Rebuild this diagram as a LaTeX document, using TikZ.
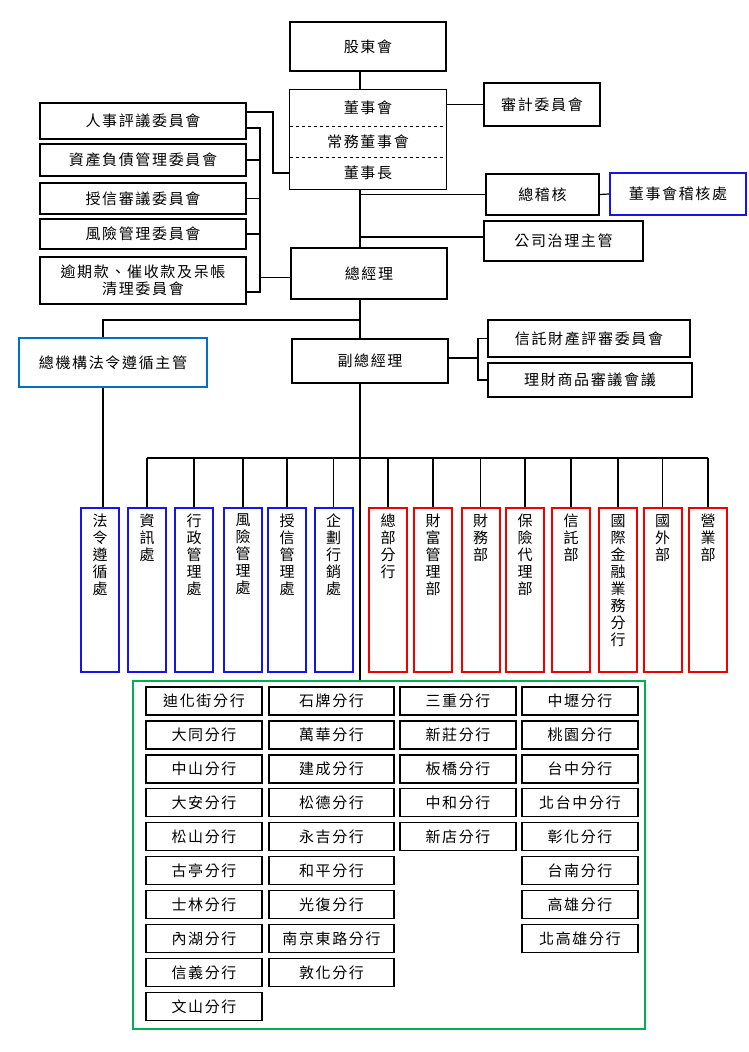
\documentclass[tikz,border=0pt]{standalone}
\usepackage{fontspec}
\newfontfamily\cjk[LetterSpace=11]{Noto Sans CJK TC}
\newfontfamily\cjkv{Noto Sans CJK TC}
\usetikzlibrary{positioning,fit}
\definecolor{deptblue}{RGB}{20,20,235}
\definecolor{lawblue}{RGB}{0,112,192}
\definecolor{deptred}{RGB}{240,0,0}
\definecolor{brgreen}{RGB}{0,176,80}
\tikzset{
  box/.style={draw, line width=1.2pt, inner sep=0pt, align=center,
    font=\cjk\fontsize{15}{17}\selectfont},
  cell/.style={inner sep=0pt, minimum width=156, font=\cjk\fontsize{15}{17}\selectfont},
  dept/.style={draw, line width=2pt, inner sep=0pt, minimum width=38, minimum height=164},
  vtext/.style={inner sep=0pt, align=center, font=\cjkv\fontsize{15}{17}\selectfont},
  branch/.style={box, minimum width=116, minimum height=28}
}
\begin{document}
\begin{tikzpicture}[x=1pt,y=-1pt]
  \useasboundingbox (0,0) rectangle (748,1052);
  \coordinate (spine) at (360,0);
  % board level
  \node[box, minimum width=156, minimum height=49] (gudong) at (368,46.5) {股東會};
  \node[cell, minimum height=36] (dsh) at (368,108) {董事會};
  \node[cell, minimum height=31] (changwu) at (368,141.5) {常務董事會};
  \node[cell, minimum height=32] (chair) at (368,173) {董事長};
  \node[box, fit=(dsh)(chair)] (dongshi) {};
  \draw[dashed, line width=0.9pt] (dsh.south west) -- (dsh.south east);
  \draw[dashed, line width=0.9pt] (changwu.south west) -- (changwu.south east);
  \node[box, minimum width=116, minimum height=43] (shenji) at (542,104.5) {審計委員會};
  \node[box, minimum width=113, minimum height=41] (zongji) at (542.5,194.5) {總稽核};
  \node[box, draw=deptblue, line width=2pt, minimum width=136, minimum height=42] (jihechu) at (678,194) {董事會稽核處};
  \node[box, minimum width=159, minimum height=40] (zhili) at (563.5,241) {公司治理主管};
  \node[box, minimum width=156, minimum height=51] (zongjingli) at (369,273.5) {總經理};
  % committees
  \node[box, minimum width=206, minimum height=36] (renshi) at (143,121) {人事評議委員會};
  \node[box, minimum width=206, minimum height=32] (zichan) at (143,160) {資產負債管理委員會};
  \node[box, minimum width=206, minimum height=31] (shouxin) at (143,198.5) {授信審議委員會};
  \node[box, minimum width=206, minimum height=30] (fengxian) at (143,234) {風險管理委員會};
  \node[box, minimum width=206, minimum height=47] (yuqi) at (143,280.5) {逾期款、催收款及呆帳\\清理委員會};
  \coordinate (rsbend) at (273,140);
  \coordinate (lbtop) at (260,128);
  \coordinate (lbbot) at (260,292);
  \draw[line width=1.2pt] ([yshift=9pt]renshi.east) -| (rsbend) |- (chair.west);
  \draw[line width=1.2pt] ([yshift=-7pt]renshi.east) -- (lbtop) -- (lbbot) -- (lbbot -| yuqi.east);
  \foreach \n in {zichan,shouxin,fengxian}
    \draw[line width=1.2pt] (\n.east) -- (\n.east -| lbtop);
  \draw[line width=1.2pt] ([yshift=-4pt]zongjingli.west) -- ([yshift=-4pt]zongjingli.west -| lbtop);
  % spine
  \draw[line width=1.2pt] (gudong.south -| spine) -- (dongshi.north -| spine);
  \draw[line width=1.2pt] (dongshi.south -| spine) -- (zongjingli.north -| spine);
  \draw[line width=1.2pt] (shenji.west) -- (shenji.west -| dongshi.east);
  \draw[line width=1.2pt] (zongji.west) -- (zongji.west -| spine);
  \draw[line width=1.2pt] (zongji.east) -- (jihechu.west);
  \draw[line width=1.2pt] ([yshift=4pt]zhili.west) -- ([yshift=4pt]zhili.west -| spine);
  % general manager level
  \node[box, draw=lawblue, line width=2pt, minimum width=188, minimum height=49] (zongjigou) at (113,362.5) {總機構法令遵循主管};
  \node[box, minimum width=156, minimum height=44] (fuzong) at (370,361) {副總經理};
  \node[box, minimum width=202, minimum height=37] (xintuoping) at (589,338.5) {信託財產評審委員會};
  \node[box, minimum width=204, minimum height=34] (licai) at (590,380) {理財商品審議會議};
  \coordinate (rbus) at (478,0);
  \coordinate (fgturn) at (103,320);
  \coordinate (bus) at (0,458);
  \draw[line width=1.2pt] (zongjingli.south -| spine) -- (fuzong.north -| spine);
  \draw[line width=1.2pt] (fgturn -| spine) -- (fgturn) -- (fgturn |- zongjigou.north);
  \draw[line width=1.2pt] ([yshift=3pt]fuzong.east) -- ([yshift=3pt]fuzong.east -| rbus);
  \draw[line width=1.2pt] (xintuoping.west) -| (licai.west -| rbus) -- (licai.west);
  % departments
  \foreach \n/\x/\c/\t in {
      fagui/100/deptblue/{法\\令\\遵\\循\\處},
      zixun/147/deptblue/{資\\訊\\處},
      xingzheng/194/deptblue/{行\\政\\管\\理\\處},
      fengguan/243/deptblue/{風\\險\\管\\理\\處},
      shouguan/287/deptblue/{授\\信\\管\\理\\處},
      qihua/333.5/deptblue/{企\\劃\\行\\銷\\處},
      zongbu/388/deptred/{總\\部\\分\\行},
      caifu/433/deptred/{財\\富\\管\\理\\部},
      caiwu/480.5/deptred/{財\\務\\部},
      baoxian/525/deptred/{保\\險\\代\\理\\部},
      xintuo/571/deptred/{信\\託\\部},
      guoji/618/deptred/{國\\際\\金\\融\\業\\務\\分\\行},
      guowai/662.5/deptred/{國\\外\\部},
      yingye/708/deptred/{營\\業\\部}} {
    \node[dept, draw=\c] (\n) at (\x,590) {};
    \node[vtext, below=7pt of \n.north] (\n-t) {\t};
  }
  \draw[line width=1.2pt] (fgturn |- zongjigou.south) -- (fgturn |- fagui.north);
  \draw[line width=1.2pt] (zixun.north |- bus) -- (yingye.north |- bus);
  \foreach \n in {zixun,xingzheng,fengguan,shouguan,qihua,zongbu,caifu,caiwu,baoxian,xintuo,guoji,guowai,yingye}
    \draw[line width=1.2pt] (\n.north) -- (\n.north |- bus);
  % branches
  \node[draw=brgreen, line width=2pt, minimum width=512, minimum height=348] (branches) at (389,855) {};
  \draw[line width=1.2pt] (fuzong.south -| spine) -- (branches.north -| spine);
  \foreach \cx/\w/\col [count=\k] in {
      204/116/{迪化街分行,大同分行,中山分行,大安分行,松山分行,古亭分行,士林分行,內湖分行,信義分行,文山分行},
      331.5/125/{石牌分行,萬華分行,建成分行,松德分行,永吉分行,和平分行,光復分行,南京東路分行,敦化分行},
      458/116/{三重分行,新莊分行,板橋分行,中和分行,新店分行},
      580/116/{中壢分行,桃園分行,台中分行,北台中分行,彰化分行,台南分行,高雄分行,北高雄分行}} {
    \foreach \t [count=\i from 0] in \col
      \node[branch, minimum width=\w] (b\k-\i) at (\cx,{701+33.95*\i}) {\t};
  }
\end{tikzpicture}
\end{document}
